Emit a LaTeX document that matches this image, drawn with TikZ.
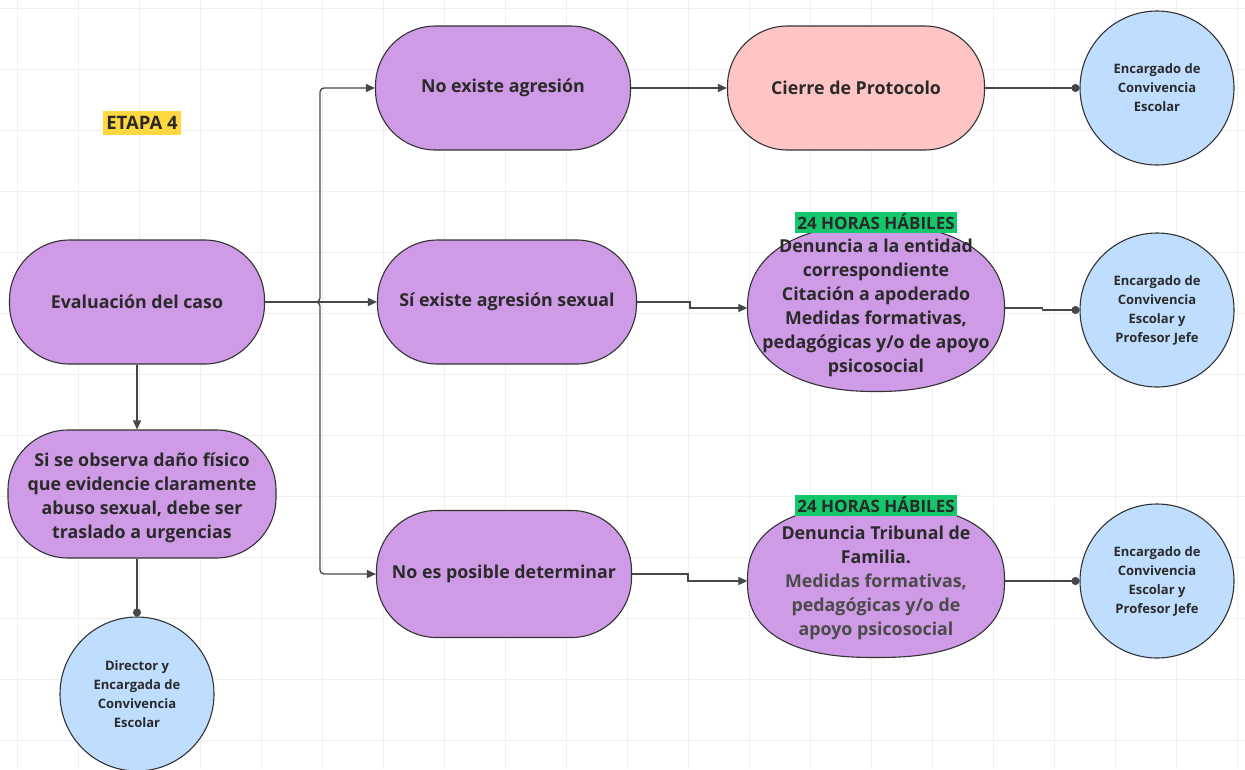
\documentclass[tikz,border=0pt]{standalone}
\usepackage{fontspec}
\setmainfont{Open Sans}[BoldFont={Open Sans Bold}]
\usetikzlibrary{arrows.meta,shapes.geometric}
\definecolor{purp}{HTML}{CF9BE6}
\definecolor{lblue}{HTML}{BFDEFF}
\definecolor{pinkc}{HTML}{FFC4C4}
\definecolor{greenl}{HTML}{14C76A}
\definecolor{yell}{HTML}{FFD740}
\definecolor{edge}{HTML}{333333}
\definecolor{gridc}{HTML}{EFEFEF}
\definecolor{txt}{HTML}{2A2A2A}
\begin{document}
\begin{tikzpicture}[x=1pt,y=-1pt,
  stadium/.style={draw=edge,line width=1.1pt,fill=purp,rounded corners=60pt,minimum width=255pt,minimum height=124pt,align=center,text=txt,font=\fontsize{17.8}{24.3}\selectfont\bfseries},
  oval/.style={ellipse,inner xsep=-40pt,inner ysep=-24pt,align=center,text=txt,font=\fontsize{17.8}{24}\selectfont\bfseries},
  sellshape/.style={draw=edge,line width=1.1pt,fill=purp},
  person/.style={draw=edge,line width=1.1pt,fill=lblue,circle,minimum size=154pt,inner sep=0pt,align=center,text=txt,font=\fontsize{13}{19}\selectfont\bfseries},
  tag/.style={fill=greenl,inner xsep=2pt,inner ysep=2.5pt,text=txt,font=\fontsize{17}{18}\selectfont\bfseries},
  conn/.style={draw=edge!90,line width=1.3pt},
  arr/.style={conn,-{Triangle[length=9pt,width=8pt]}},
  dot/.style={conn,-{Circle[length=8pt]}}]
\useasboundingbox (0,0) rectangle (1245,769);
\fill[white] (0,0) rectangle (1245,769);
% grid
\foreach \gx in {17,78,139,200,261,322,383,444,505,566,627,688,749,810,871,932,993,1054,1115,1176,1237}
  \draw[gridc,line width=0.8pt] (\gx,0) -- (\gx,769);
\foreach \gy in {8,69,130,191,252,313,374,435,496,557,618,679,740}
  \draw[gridc,line width=0.8pt] (0,\gy) -- (1245,\gy);

\node[fill=yell,inner xsep=3pt,inner ysep=5pt,text=txt,font=\fontsize{18.5}{20}\selectfont\bfseries] (etapa) at (142,123) {ETAPA 4};

\node[stadium] (eval) at (137,302) {Evaluación del caso};
\node[stadium,minimum width=268pt,minimum height=128pt] (obs) at (142,494) {\\[-3pt]Si se observa daño físico\\que evidencie claramente\\abuso sexual, debe ser\\traslado a urgencias};
\node[person] (dir) at (137,694) {Director y\\Encargada de\\Convivencia\\Escolar};

\node[stadium] (noex) at (503,88) {No existe agresión};
\node[stadium,minimum width=259pt] (sie) at (507,302) {Sí existe agresión sexual};
\node[stadium,minimum height=127pt] (nope) at (504,574) {No es posible determinar};

\node[stadium,fill=pinkc,minimum width=257pt] (cierre) at (856,88) {Cierre de Protocolo};

% superelliptic outlines of the two action shapes
\draw[sellshape] plot[domain=0.5:360.5,samples=121,smooth] ({876+128.5*sign(cos(\x))*pow(abs(cos(\x)),0.88)},{308+83.5*sign(sin(\x))*pow(abs(sin(\x)),0.88)}) -- cycle;
\draw[sellshape] plot[domain=0.5:360.5,samples=121,smooth] ({876+128.5*sign(cos(\x))*pow(abs(cos(\x)),0.82)},{581+76.5*sign(sin(\x))*pow(abs(sin(\x)),0.82)}) -- cycle;

\node[oval,minimum width=257pt,minimum height=167pt] (den) at (876,308) {Denuncia a la entidad\\correspondiente\\Citación a apoderado\\Medidas formativas,\\pedagógicas y/o de apoyo\\psicosocial};
\node[tag] (tag1) at (876,222) {24 HORAS HÁBILES};
\node[oval,minimum width=257pt,minimum height=153pt] (trib) at (876,581) {\\[-6pt]Denuncia Tribunal de\\Familia.\\\textcolor{txt!85}{Medidas formativas,}\\\textcolor{txt!85}{pedagógicas y/o de}\\\textcolor{txt!85}{apoyo psicosocial}};
\node[tag] (tag2) at (876,505) {24 HORAS HÁBILES};

\node[person] (enc1) at (1157,88) {Encargado de\\Convivencia\\Escolar};
\node[person] (enc2) at (1157,310) {Encargado de\\Convivencia\\Escolar y\\Profesor Jefe};
\node[person] (enc3) at (1157,581) {Encargado de\\Convivencia\\Escolar y\\Profesor Jefe};

% connectors
\draw[arr,rounded corners=4pt] (eval.east) -- (320,302) |- (noex.west);
\draw[arr] (eval.east) -- (sie.west);
\draw[arr,rounded corners=4pt] (eval.east) -- (320,302) |- (nope.west);
\draw[arr] (eval.south) -- (eval.south |- obs.north);
\draw[dot] (dir.north |- obs.south) -- (dir.north);
\draw[arr] (noex.east) -- (cierre.west);
\draw[dot] (cierre.east) -- (enc1.west);
\draw[arr] (sie.east) -- ++(53,0) |- (den.west);
\draw[dot] (den.east) -- ++(38,0) |- (enc2.west);
\draw[arr] (nope.east) -- ++(56,0) |- (trib.west);
\draw[dot] (trib.east) -- (enc3.west);
\end{tikzpicture}
\end{document}
